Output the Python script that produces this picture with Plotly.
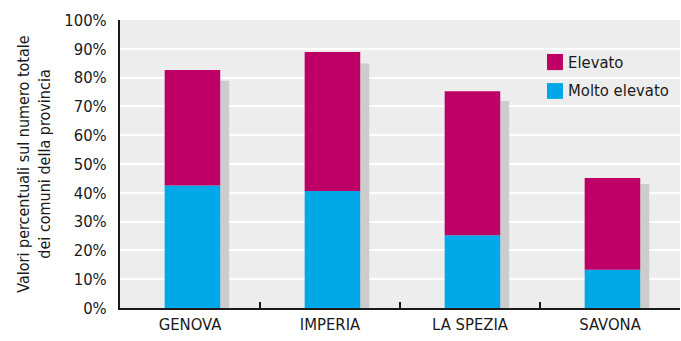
import plotly.graph_objects as go

# Province and percentage of municipalities by risk level
province = ["GENOVA", "IMPERIA", "LA SPEZIA", "SAVONA"]
molto_elevato = [42.5, 40.6, 25.3, 13.3]
elevato = [40.1, 48.3, 50.0, 31.8]

totale = [m + e for m, e in zip(molto_elevato, elevato)]
ombra = [t * 0.955 for t in totale]  # drop shadow behind each column

y_ticks = list(range(0, 101, 10))
y_labels = [f"{v}%" for v in y_ticks]

C_ELEVATO = "#BE0066"
C_MOLTO = "#00A8E8"
C_OMBRA = "#CCCCCC"
C_TEXT = "#1A1A1A"
FONT = "DejaVu Sans Condensed"
FS = 16.5

bar_w = 0.397
bar_off = -0.181
shadow_w = 0.064
shadow_off = bar_off + bar_w

fig = go.Figure()

fig.add_trace(go.Bar(
    x=province, y=ombra, base=[0] * len(province),
    width=shadow_w, offset=shadow_off,
    marker=dict(color=C_OMBRA, line=dict(width=0)),
    showlegend=False, hoverinfo="skip",
))
fig.add_trace(go.Bar(
    x=province, y=molto_elevato, base=[0] * len(province),
    width=bar_w, offset=bar_off, name="Molto elevato",
    marker=dict(color=C_MOLTO, line=dict(width=0)),
    showlegend=False,
))
fig.add_trace(go.Bar(
    x=province, y=elevato, base=molto_elevato,
    width=bar_w, offset=bar_off, name="Elevato",
    marker=dict(color=C_ELEVATO, line=dict(width=0)),
    showlegend=False,
))

# Legend: square swatches with labels, top right of the plot
legend_items = [("Elevato", C_ELEVATO, 0.826, 0.882),
                ("Molto elevato", C_MOLTO, 0.726, 0.781)]
for label, col, y0, y1 in legend_items:
    fig.add_shape(type="rect", xref="paper", yref="paper",
                  x0=0.7625, x1=0.791, y0=y0, y1=y1,
                  fillcolor=col, line=dict(width=0))
    fig.add_annotation(xref="paper", yref="paper", x=0.796, y=(y0 + y1) / 2,
                       text=label, showarrow=False, xanchor="left",
                       yanchor="middle",
                       font=dict(family=FONT, size=FS, color=C_TEXT))

fig.update_layout(
    width=681, height=341,
    margin=dict(l=120, r=1, t=20, b=33),
    paper_bgcolor="white",
    plot_bgcolor="#EDEDED",
    barmode="overlay",
    font=dict(family=FONT, size=FS, color=C_TEXT),
    showlegend=False,
    xaxis=dict(
        type="category", categoryorder="array", categoryarray=province,
        range=[-0.5, 3.5],
        showline=True, linecolor=C_TEXT, linewidth=2,
        ticks="inside", tickson="boundaries", ticklen=6, tickwidth=2,
        tickcolor=C_TEXT, showgrid=False,
        tickfont=dict(family=FONT, size=FS),
    ),
    yaxis=dict(
        range=[0, 100],
        tickvals=y_ticks, ticktext=y_labels,
        showline=True, linecolor=C_TEXT, linewidth=2,
        showgrid=True, gridcolor="white", gridwidth=2,
        zeroline=False, ticks="", ticklabelstandoff=8,
        tickfont=dict(family=FONT, size=FS),
        title=dict(
            text="Valori percentuali sul numero totale<br>dei comuni della provincia",
            font=dict(family=FONT, size=16), standoff=10,
        ),
    ),
)

fig.write_html("out.html")
